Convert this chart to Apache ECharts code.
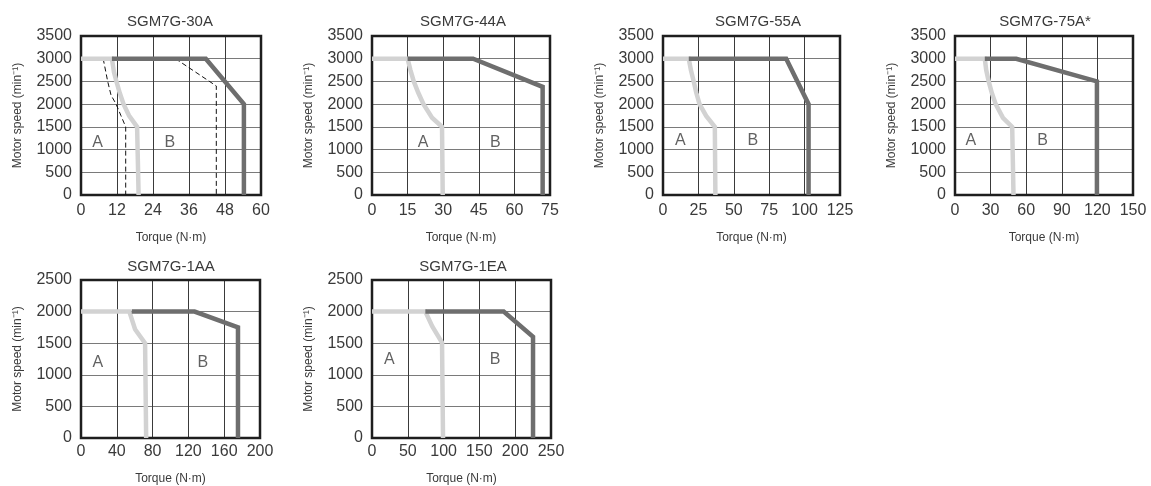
<!DOCTYPE html>
<html>
<head>
<meta charset="utf-8">
<script src="https://cdn.jsdelivr.net/npm/echarts@6/dist/echarts.min.js"></script>
<style>
html,body{margin:0;padding:0;background:#fff;}
#c{width:1151px;height:486px;}
</style>
</head>
<body>
<div id="c"></div>
<script>
// ---- data ----
const titles = ['SGM7G-30A', 'SGM7G-44A', 'SGM7G-55A', 'SGM7G-75A*', 'SGM7G-1AA', 'SGM7G-1EA'];
const xMax = [60, 75, 125, 150, 200, 250];
const xStep = [12, 15, 25, 30, 40, 50];
const yMax = [3500, 3500, 3500, 3500, 2500, 2500];
const yStep = [500, 500, 500, 500, 500, 500];
const xName = 'Torque (N·m)';
const yName = 'Motor speed (min⁻¹)';

// Region A boundary (light gray), [torque, speed]
const curveA_30A = [[0,3000],[10.3,3000],[11,2700],[11.8,2500],[12.9,2250],[14.2,2000],[16,1750],[18.7,1500],[19.2,0]];
const curveA_44A = [[0,3000],[15,3000],[16.2,2750],[17.6,2500],[19.5,2250],[21.7,2000],[25.3,1700],[29.5,1500],[29.8,0]];
const curveA_55A = [[0,3000],[18.2,3000],[19.7,2750],[21.7,2500],[23.5,2250],[25.8,2000],[30.5,1740],[36.6,1500],[37,0]];
const curveA_75A = [[0,3000],[25.1,3000],[26.3,2750],[28.4,2500],[31,2250],[34.3,2000],[40.4,1700],[48.2,1500],[49.3,0]];
const curveA_1AA = [[0,2000],[54,2000],[60.4,1720],[71.6,1500],[72.8,0]];
const curveA_1EA = [[0,2000],[74.5,2000],[84,1770],[97.8,1510],[99.2,0]];

// Region B boundary (dark gray)
const curveB_30A = [[10.3,3000],[41.6,3000],[54.3,2000],[54.3,0]];
const curveB_44A = [[15,3000],[42.6,3000],[71.9,2380],[71.9,0]];
const curveB_55A = [[18.2,3000],[87,3000],[102.8,2000],[102.8,0]];
const curveB_75A = [[25.1,3000],[51.6,3000],[119.6,2500],[119.6,0]];
const curveB_1AA = [[56.7,2000],[126.9,2000],[175.4,1750],[175.4,0]];
const curveB_1EA = [[74.5,2000],[183.9,2000],[224.9,1600],[224.9,0]];

// Dashed boundaries (SGM7G-30A only)
const dashA_30A = [[7.4,3000],[8.9,2500],[10,2200],[11.7,2000],[13.3,1750],[14.9,1500],[14.9,0]];
const dashB_30A = [[31.5,3000],[45.1,2400],[45.1,0]];

// Region label positions [torque, speed]
const labelA = [[5.5,1150],[21.5,1150],[12.3,1190],[13.4,1190],[18.7,1200],[24.2,1240]];
const labelB = [[29.6,1150],[52,1150],[63.4,1190],[73.9,1190],[136,1200],[172,1240]];

const curvesA = [curveA_30A, curveA_44A, curveA_55A, curveA_75A, curveA_1AA, curveA_1EA];
const curvesB = [curveB_30A, curveB_44A, curveB_55A, curveB_75A, curveB_1AA, curveB_1EA];
const dashed = [[dashA_30A, dashB_30A], [], [], [], [], []];

// ---- layout ----
const gridBoxes = [
  {left: 81, top: 36, width: 180, height: 159},
  {left: 372, top: 36, width: 178, height: 159},
  {left: 663, top: 36, width: 177, height: 159},
  {left: 955, top: 36, width: 178, height: 159},
  {left: 81, top: 280, width: 179, height: 159},
  {left: 372, top: 280, width: 179, height: 159}
];
const titleCenters = [170, 463, 758, 1045, 171, 463];
const titleTops = [14, 14, 14, 14, 259, 259];
const FONT = 'Liberation Sans, Arial, sans-serif';
const TXT = '#3a3a3a';

const grid = [], xAxis = [], yAxis = [], series = [], title = [];
for (let i = 0; i < 6; i++) {
  const bottomRow = i >= 4;
  grid.push(Object.assign({show: true, borderColor: '#1e1e1e', borderWidth: 2.5, backgroundColor: 'transparent', z: 3}, gridBoxes[i]));
  title.push({
    text: titles[i], left: titleCenters[i], top: titleTops[i], textAlign: 'center', padding: 0,
    textStyle: {fontFamily: FONT, fontSize: 15, fontWeight: 'normal', color: TXT}
  });
  xAxis.push({
    type: 'value', gridIndex: i, min: 0, max: xMax[i], interval: xStep[i],
    name: xName, nameLocation: 'middle', nameGap: bottomRow ? 35 : 37,
    nameTextStyle: {fontFamily: FONT, fontSize: 12, color: TXT},
    axisLine: {show: false}, axisTick: {show: false},
    axisLabel: {fontFamily: FONT, fontSize: 16, color: TXT, margin: bottomRow ? 6 : 8, formatter: v => String(v)},
    splitLine: {show: true, lineStyle: {color: '#3a3a3a', width: 1}}
  });
  yAxis.push({
    type: 'value', gridIndex: i, min: 0, max: yMax[i], interval: yStep[i],
    name: yName, nameLocation: 'middle', nameGap: 57,
    nameTextStyle: {fontFamily: FONT, fontSize: 12, color: TXT},
    axisLine: {show: false}, axisTick: {show: false},
    axisLabel: {fontFamily: FONT, fontSize: 16, color: TXT, margin: 9, formatter: v => String(v)},
    splitLine: {show: true, lineStyle: {color: '#7a7a7a', width: 1}}
  });
  dashed[i].forEach(d => series.push({
    type: 'line', xAxisIndex: i, yAxisIndex: i, data: d, symbol: 'none', silent: true, z: 4,
    lineStyle: {color: '#111', width: 1, type: [5, 3]}
  }));
  series.push({
    type: 'line', xAxisIndex: i, yAxisIndex: i, data: curvesA[i], symbol: 'none', silent: true, z: 5,
    lineStyle: {color: '#d2d2d2', width: 4.5, join: 'miter', cap: 'butt'}
  });
  series.push({
    type: 'line', xAxisIndex: i, yAxisIndex: i, data: curvesB[i], symbol: 'none', silent: true, z: 6,
    lineStyle: {color: '#6e6e6e', width: 4.5, join: 'miter', cap: 'butt'}
  });
  series.push({
    type: 'scatter', xAxisIndex: i, yAxisIndex: i, symbolSize: 0, silent: true, z: 7,
    data: [{name: 'A', value: labelA[i]}, {name: 'B', value: labelB[i]}],
    label: {show: true, position: 'inside', formatter: '{b}', fontFamily: FONT, fontSize: 16, color: TXT}
  });
}

const chart = echarts.init(document.getElementById('c'), null, {renderer: 'canvas'});
chart.setOption({animation: false, backgroundColor: '#fff', title, grid, xAxis, yAxis, series});
</script>
</body>
</html>
